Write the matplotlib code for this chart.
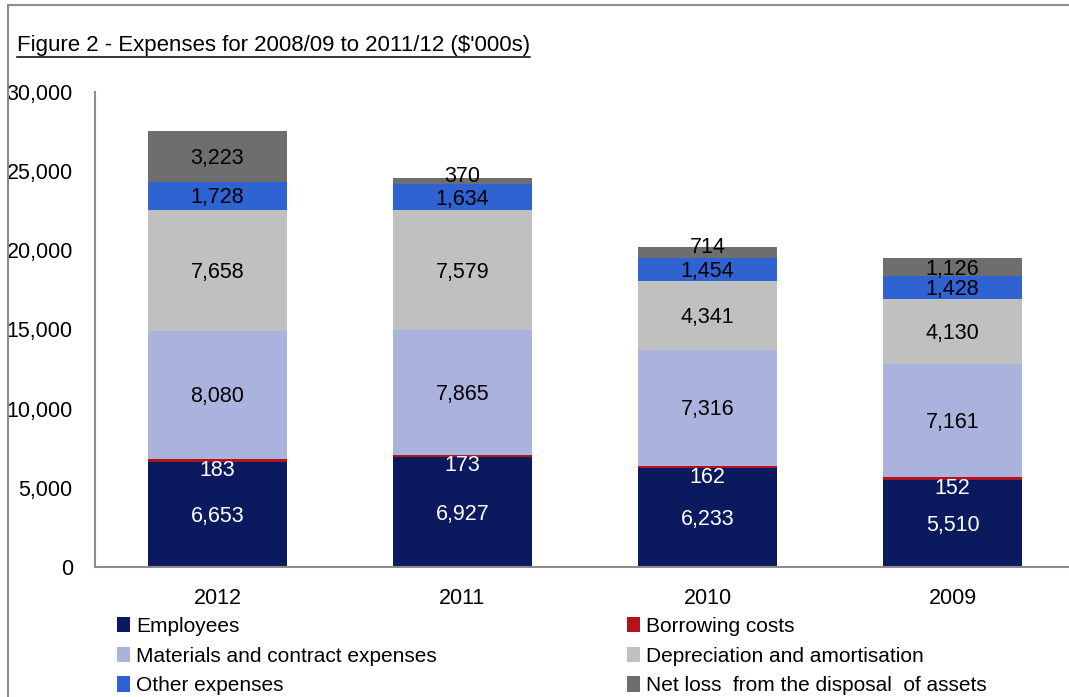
import matplotlib
matplotlib.use("Agg")
import matplotlib.pyplot as plt
from matplotlib.patches import Rectangle, Patch
from matplotlib.lines import Line2D
from matplotlib.ticker import FuncFormatter

FONT = ["Liberation Sans Narrow", "Liberation Sans", "DejaVu Sans"]
plt.rcParams["font.family"] = FONT

years = ["2012", "2011", "2010", "2009"]
series_names = [
    "Employees",
    "Borrowing costs",
    "Materials and contract expenses",
    "Depreciation and amortisation",
    "Other expenses",
    "Net loss  from the disposal  of assets",
]
employees = [6653, 6927, 6233, 5510]
borrowing = [183, 173, 162, 152]
materials = [8080, 7865, 7316, 7161]
depreciation = [7658, 7579, 4341, 4130]
other = [1728, 1634, 1454, 1428]
net_loss = [3223, 370, 714, 1126]

values = [employees, borrowing, materials, depreciation, other, net_loss]
colors = ["#0b1a5e", "#b5121b", "#a9b3dd", "#c0c0c0", "#2e63d1", "#6e6e6e"]
label_colors = ["white", "white", "black", "black", "black", "black"]

W, H = 1069, 697
fig = plt.figure(figsize=(W / 100, H / 100), dpi=100)
ax = fig.add_axes([95 / W, (H - 567) / H, 980 / W, 475 / H])

x = list(range(len(years)))
bottoms = [0] * len(years)
for vals, col, tcol in zip(values, colors, label_colors):
    ax.bar(x, vals, width=0.571, bottom=bottoms, color=col,
           edgecolor="none", zorder=2)
    for xi, v, b in zip(x, vals, bottoms):
        if tcol == "white" and v < 500:
            dy = -10  # tiny segments: label sits just below the sliver
        elif v < 800:
            dy = 5
        else:
            dy = -2
        ax.annotate(f"{v:,}", (xi, b + v / 2), xytext=(0, dy * 72 / 100),
                    textcoords="offset points", ha="center", va="center",
                    fontsize=15.5, color=tcol, zorder=3)
    bottoms = [b + v for b, v in zip(bottoms, vals)]

ax.set_xlim(-0.5, len(years) - 0.5)
ax.set_ylim(0, 30000)
ax.set_yticks(range(0, 30001, 5000))
ax.yaxis.set_major_formatter(FuncFormatter(lambda v, p: f"{int(v):,}"))
ax.set_xticks(x)
ax.set_xticklabels(years)
ax.tick_params(axis="both", length=0, labelsize=15.5, colors="black")
ax.tick_params(axis="y", pad=16)
ax.tick_params(axis="x", pad=15)
for side in ("top", "right"):
    ax.spines[side].set_visible(False)
for side in ("left", "bottom"):
    ax.spines[side].set_color("#8c8c8c")
    ax.spines[side].set_linewidth(1.5)

# outer chart frame
fig.add_artist(Rectangle((8 / W, -0.05), 1.2, (H - 4.5) / H + 0.05,
                         transform=fig.transFigure, fill=False,
                         edgecolor="#8c8c8c", linewidth=1.5))

# underlined title
title = fig.text(17 / W, (H - 45) / H, "Figure 2 - Expenses for 2008/09 to 2011/12 ($'000s)",
                 fontsize=16, ha="left", va="center")
fig.canvas.draw()
bb = title.get_window_extent()
uy = (bb.y0 - 1) / H
fig.add_artist(Line2D([bb.x0 / W, bb.x1 / W], [uy, uy], color="black",
                      linewidth=1.1, transform=fig.transFigure))

# legend in two columns
handles = [Patch(facecolor=c, edgecolor="none") for c in colors]
left_idx = [0, 2, 4]
right_idx = [1, 3, 5]
common = dict(frameon=False, fontsize=15, handlelength=0.6, handleheight=0.75,
              handletextpad=0.3, labelspacing=0.51, borderpad=0, borderaxespad=0,
              loc="upper left")
fig.legend([handles[i] for i in left_idx], [series_names[i] for i in left_idx],
           bbox_to_anchor=(117 / W, (H - 617) / H), **common)
fig.legend([handles[i] for i in right_idx], [series_names[i] for i in right_idx],
           bbox_to_anchor=(627 / W, (H - 617) / H), **common)

fig.savefig("out.png", dpi=100)
